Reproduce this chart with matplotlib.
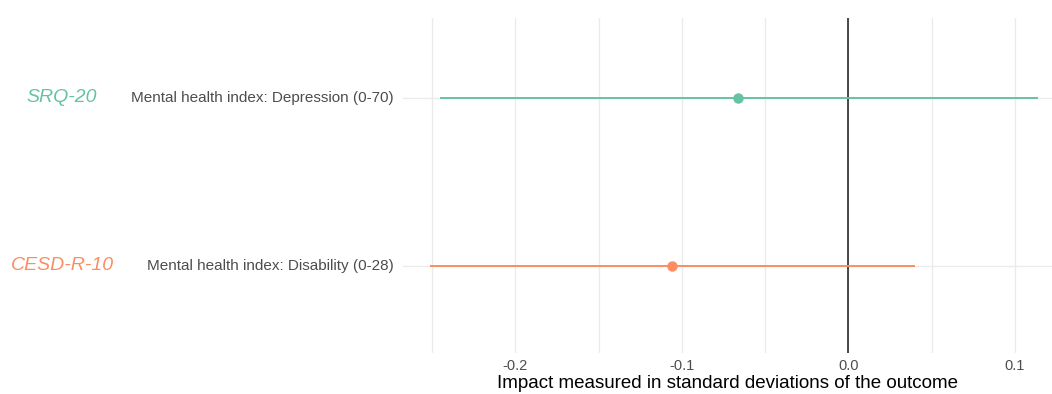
import matplotlib.pyplot as plt
from matplotlib.ticker import MultipleLocator

plt.rcParams['font.family'] = ['Liberation Sans', 'DejaVu Sans']

# Estimates and 95% CI
scales = ['SRQ-20', 'CESD-R-10']
outcomes = ['Mental health index: Depression (0-70)', 'Mental health index: Disability (0-28)']
estimates = [-0.066, -0.106]
ci_low = [-0.245, -0.251]
ci_high = [0.114, 0.040]
colors = ['#66c2a5', '#fc8d62']
ypos = [2, 1]

fig = plt.figure(figsize=(10.52, 3.94), dpi=100)
ax = fig.add_axes([403 / 1052, 1 - 353 / 394, (1052 - 403) / 1052, (353 - 18) / 394])

for y, est, lo, hi, c in zip(ypos, estimates, ci_low, ci_high, colors):
    ax.plot([lo, hi], [y, y], color=c, lw=1.4, solid_capstyle='butt', zorder=3)
    ax.plot(est, y, 'o', color=c, ms=6.5, zorder=4)

ax.axvline(0, color='#1a1a1a', lw=1.1, zorder=2)

ax.set_xlim(-0.2675, 0.1223)
ax.set_ylim(0.482, 2.476)
ax.xaxis.set_minor_locator(MultipleLocator(0.05))
ax.set_xticks([-0.2, -0.1, 0.0, 0.1])
ax.set_xticklabels(['-0.2', '-0.1', '0.0', '0.1'])
ax.set_yticks(ypos)
ax.set_yticklabels([])
ax.grid(True, which='major', color='#ebebeb', lw=1.0, zorder=0)
ax.grid(True, which='minor', axis='x', color='#ebebeb', lw=1.0, zorder=0)
ax.tick_params(axis='both', which='both', length=0)
ax.tick_params(axis='x', labelsize=10.5, colors='#4d4d4d', pad=4)
for s in ax.spines.values():
    s.set_visible(False)

ax.set_xlabel('Impact measured in standard deviations of the outcome', fontsize=13.5, color='black', labelpad=2)

for y, sc, oc, c in zip(ypos, scales, outcomes, colors):
    ax.annotate(oc, xy=(0, y), xycoords=('axes fraction', 'data'), xytext=(-7, 0),
                textcoords='offset points', ha='right', va='center', fontsize=11, color='#4d4d4d')
    ax.annotate(sc, xy=(62 / 1052, y), xycoords=('figure fraction', 'data'), ha='center', va='center',
                fontsize=14, color=c, style='italic')

fig.savefig('out.png', dpi=100)
